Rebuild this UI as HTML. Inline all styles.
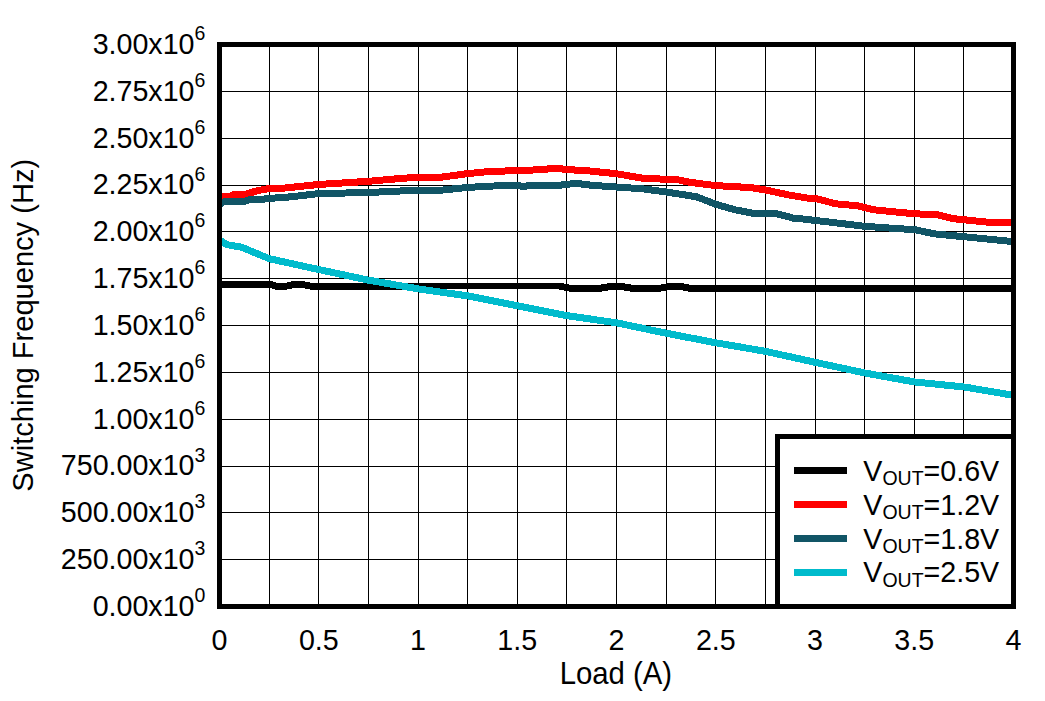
<!DOCTYPE html>
<html lang="en"><head><meta charset="utf-8"><title>Switching Frequency vs Load</title>
<style>
html,body{margin:0;padding:0;background:#fff;}
body{width:1045px;height:701px;overflow:hidden;}
svg{display:block;}
text{font-family:"Liberation Sans", Arial, Helvetica, sans-serif;fill:#000;}
</style></head><body>
<svg width="1045" height="701" viewBox="0 0 1045 701">
<rect x="0" y="0" width="1045" height="701" fill="#fff"/>

<g shape-rendering="crispEdges" fill="#000">
<rect x="269" y="44.5" width="1" height="562.0"/>
<rect x="318" y="44.5" width="1" height="562.0"/>
<rect x="368" y="44.5" width="1" height="562.0"/>
<rect x="418" y="44.5" width="1" height="562.0"/>
<rect x="467" y="44.5" width="1" height="562.0"/>
<rect x="517" y="44.5" width="1" height="562.0"/>
<rect x="566" y="44.5" width="1" height="562.0"/>
<rect x="616" y="44.5" width="1" height="562.0"/>
<rect x="666" y="44.5" width="1" height="562.0"/>
<rect x="715" y="44.5" width="1" height="562.0"/>
<rect x="765" y="44.5" width="1" height="562.0"/>
<rect x="815" y="44.5" width="1" height="562.0"/>
<rect x="864" y="44.5" width="1" height="562.0"/>
<rect x="914" y="44.5" width="1" height="562.0"/>
<rect x="963" y="44.5" width="1" height="562.0"/>
<rect x="219.5" y="91" width="794.0" height="1"/>
<rect x="219.5" y="138" width="794.0" height="1"/>
<rect x="219.5" y="185" width="794.0" height="1"/>
<rect x="219.5" y="231" width="794.0" height="1"/>
<rect x="219.5" y="278" width="794.0" height="1"/>
<rect x="219.5" y="325" width="794.0" height="1"/>
<rect x="219.5" y="372" width="794.0" height="1"/>
<rect x="219.5" y="419" width="794.0" height="1"/>
<rect x="219.5" y="466" width="794.0" height="1"/>
<rect x="219.5" y="512" width="794.0" height="1"/>
<rect x="219.5" y="559" width="794.0" height="1"/>
</g>
<polyline points="219.0,284.5 271.0,284.5 277.0,286.5 285.0,286.5 293.0,284.6 303.0,284.6 311.0,286.2 360.0,286.2 418.0,286.0 559.0,286.0 570.0,288.2 600.0,288.2 612.0,286.3 620.0,286.3 632.0,288.2 660.0,288.2 671.0,286.3 680.0,286.3 690.0,288.3 1014.0,288.3" fill="none" stroke="#000000" stroke-width="7" stroke-linejoin="round" shape-rendering="crispEdges"/>
<polyline points="219.0,196.6 230.0,196.4 234.0,194.4 245.0,194.4 258.0,190.5 269.6,188.5 282.0,188.3 318.5,184.5 368.7,181.3 400.0,178.5 419.0,177.1 442.0,177.1 467.6,173.6 493.6,171.1 517.4,170.9 542.4,169.5 556.0,168.2 566.8,169.5 591.0,171.1 617.0,173.8 642.5,178.2 677.8,179.8 691.3,182.5 715.7,185.6 751.0,187.6 765.8,190.0 788.9,195.0 810.0,198.5 815.4,198.5 836.0,203.8 858.0,205.8 874.0,209.8 914.5,213.8 936.6,214.6 952.7,218.6 988.9,222.3 1014.0,222.3" fill="none" stroke="#FF0000" stroke-width="7" stroke-linejoin="round" shape-rendering="crispEdges"/>
<polyline points="219.0,204.5 225.0,201.2 245.0,201.2 250.0,199.4 263.0,199.4 266.0,198.7 290.0,196.9 318.5,193.6 368.7,192.5 419.0,190.1 442.0,190.1 467.6,187.4 493.6,186.0 517.4,185.9 526.0,186.2 529.0,185.1 561.0,185.1 576.0,183.3 591.0,185.2 617.0,187.1 642.5,188.8 666.4,192.0 696.2,196.7 715.6,204.2 735.0,209.8 753.8,213.4 776.6,213.7 794.0,218.3 802.0,218.9 822.0,221.2 864.7,226.3 897.0,228.6 914.5,229.6 934.6,233.9 963.7,236.7 1014.0,241.7" fill="none" stroke="#115566" stroke-width="7" stroke-linejoin="round" shape-rendering="crispEdges"/>
<polyline points="219.0,239.6 227.0,244.6 232.0,245.6 241.0,247.0 269.3,258.7 318.5,269.5 368.7,280.2 419.0,289.0 467.6,295.9 517.4,305.8 566.8,315.6 617.0,322.9 666.1,333.2 715.9,342.8 765.7,351.4 815.6,362.4 865.0,373.0 914.8,382.0 964.3,387.0 1014.0,395.4" fill="none" stroke="#00BBCC" stroke-width="7" stroke-linejoin="round" shape-rendering="crispEdges"/>
<rect x="219.5" y="44.5" width="794.0" height="562.0" fill="none" stroke="#000" stroke-width="5" shape-rendering="crispEdges"/>
<rect x="777.5" y="436.5" width="236.0" height="170.0" fill="#fff" stroke="#000" stroke-width="5" shape-rendering="crispEdges"/>
<rect x="794" y="467.0" width="53" height="7" fill="#000000" shape-rendering="crispEdges"/>
<text transform="translate(863.3,480.7) scale(1,1.04)" font-size="28.65">V<tspan font-size="19.5" dy="4.3">OUT</tspan><tspan dy="-4.3">=0.6V</tspan></text>
<rect x="794" y="501.0" width="53" height="7" fill="#FF0000" shape-rendering="crispEdges"/>
<text transform="translate(863.3,514.7) scale(1,1.04)" font-size="28.65">V<tspan font-size="19.5" dy="4.3">OUT</tspan><tspan dy="-4.3">=1.2V</tspan></text>
<rect x="794" y="535.0" width="53" height="7" fill="#115566" shape-rendering="crispEdges"/>
<text transform="translate(863.3,548.7) scale(1,1.04)" font-size="28.65">V<tspan font-size="19.5" dy="4.3">OUT</tspan><tspan dy="-4.3">=1.8V</tspan></text>
<rect x="794" y="568.5" width="53" height="7" fill="#00BBCC" shape-rendering="crispEdges"/>
<text transform="translate(863.3,582.2) scale(1,1.04)" font-size="28.65">V<tspan font-size="19.5" dy="4.3">OUT</tspan><tspan dy="-4.3">=2.5V</tspan></text>
<text transform="translate(205.4,53.8) scale(1,1.04)" font-size="28.65" text-anchor="end">3.00x10<tspan font-size="19.5" dy="-13.1">6</tspan></text>
<text transform="translate(205.4,100.6) scale(1,1.04)" font-size="28.65" text-anchor="end">2.75x10<tspan font-size="19.5" dy="-13.1">6</tspan></text>
<text transform="translate(205.4,147.5) scale(1,1.04)" font-size="28.65" text-anchor="end">2.50x10<tspan font-size="19.5" dy="-13.1">6</tspan></text>
<text transform="translate(205.4,194.3) scale(1,1.04)" font-size="28.65" text-anchor="end">2.25x10<tspan font-size="19.5" dy="-13.1">6</tspan></text>
<text transform="translate(205.4,241.1) scale(1,1.04)" font-size="28.65" text-anchor="end">2.00x10<tspan font-size="19.5" dy="-13.1">6</tspan></text>
<text transform="translate(205.4,288.0) scale(1,1.04)" font-size="28.65" text-anchor="end">1.75x10<tspan font-size="19.5" dy="-13.1">6</tspan></text>
<text transform="translate(205.4,334.8) scale(1,1.04)" font-size="28.65" text-anchor="end">1.50x10<tspan font-size="19.5" dy="-13.1">6</tspan></text>
<text transform="translate(205.4,381.6) scale(1,1.04)" font-size="28.65" text-anchor="end">1.25x10<tspan font-size="19.5" dy="-13.1">6</tspan></text>
<text transform="translate(205.4,428.5) scale(1,1.04)" font-size="28.65" text-anchor="end">1.00x10<tspan font-size="19.5" dy="-13.1">6</tspan></text>
<text transform="translate(205.4,475.3) scale(1,1.04)" font-size="28.65" text-anchor="end">750.00x10<tspan font-size="19.5" dy="-13.1">3</tspan></text>
<text transform="translate(205.4,522.1) scale(1,1.04)" font-size="28.65" text-anchor="end">500.00x10<tspan font-size="19.5" dy="-13.1">3</tspan></text>
<text transform="translate(205.4,569.0) scale(1,1.04)" font-size="28.65" text-anchor="end">250.00x10<tspan font-size="19.5" dy="-13.1">3</tspan></text>
<text transform="translate(205.4,615.8) scale(1,1.04)" font-size="28.65" text-anchor="end">0.00x10<tspan font-size="19.5" dy="-13.1">0</tspan></text>
<text transform="translate(219.5,650.2) scale(1,1.04)" font-size="28.65" text-anchor="middle">0</text>
<text transform="translate(318.8,650.2) scale(1,1.04)" font-size="28.65" text-anchor="middle">0.5</text>
<text transform="translate(418.0,650.2) scale(1,1.04)" font-size="28.65" text-anchor="middle">1</text>
<text transform="translate(517.2,650.2) scale(1,1.04)" font-size="28.65" text-anchor="middle">1.5</text>
<text transform="translate(616.5,650.2) scale(1,1.04)" font-size="28.65" text-anchor="middle">2</text>
<text transform="translate(715.8,650.2) scale(1,1.04)" font-size="28.65" text-anchor="middle">2.5</text>
<text transform="translate(815.0,650.2) scale(1,1.04)" font-size="28.65" text-anchor="middle">3</text>
<text transform="translate(914.2,650.2) scale(1,1.04)" font-size="28.65" text-anchor="middle">3.5</text>
<text transform="translate(1013.5,650.2) scale(1,1.04)" font-size="28.65" text-anchor="middle">4</text>
<text transform="translate(615.9,683.8) scale(1,1.04)" font-size="29.3" text-anchor="middle">Load (A)</text>
<text transform="translate(33.1,325.3) rotate(-90) scale(1,1.04)" font-size="29.08" text-anchor="middle">Switching Frequency (Hz)</text>
</svg></body></html>
